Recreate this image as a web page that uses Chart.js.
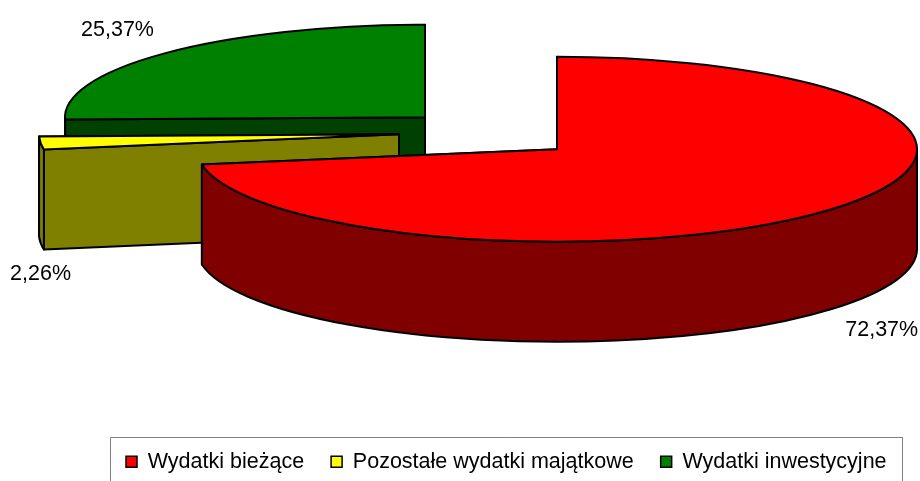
<!DOCTYPE html>
<html lang="pl">
<head>
    <meta charset="UTF-8">
    <title>Wydatki</title>
    <style>
        body { margin: 0; background: #fff; }
        canvas { display: block; }
    </style>
    <script src="https://cdn.jsdelivr.net/npm/chart.js"></script>
</head>
<body>
    <canvas id="chart" width="920" height="481"></canvas>
    <script>
        const categories = ['Wydatki bieżące', 'Pozostałe wydatki majątkowe', 'Wydatki inwestycyjne'];
        const shares = [72.37, 2.26, 25.37];
        const topColors = ['#ff0000', '#ffff00', '#008000'];
        const sideColors = ['#800000', '#808000', '#004000'];

        // look of the fake 3D pie (pixels)
        const squash = 92.5 / 360;
        const depth = 100;
        const explode = [[97, -62], [-61, -77], [-35, -94]];   // shift of each slice from the chart centre
        const labelShift = [[50, 121], [0, 131], [-50, -23]];  // label from the middle of the slice rim

        function drawSlice(ctx, arc, i) {
            const { x, y, startAngle, endAngle, outerRadius: r } = arc.getProps(['x', 'y', 'startAngle', 'endAngle', 'outerRadius']);
            const cx = x + explode[i][0];
            const cy = y + explode[i][1];
            const ry = r * squash;
            const rim = a => [cx + r * Math.cos(a), cy + ry * Math.sin(a)];

            ctx.lineWidth = 2;
            ctx.lineJoin = 'round';
            ctx.strokeStyle = '#000';
            ctx.fillStyle = sideColors[i];

            // the two cut faces, the far one first
            [endAngle, startAngle].forEach(a => {
                const p = rim(a);
                ctx.beginPath();
                ctx.moveTo(cx, cy);
                ctx.lineTo(p[0], p[1]);
                ctx.lineTo(p[0], p[1] + depth);
                ctx.lineTo(cx, cy + depth);
                ctx.closePath();
                ctx.fill();
                ctx.stroke();
            });

            // outer wall, only the part that faces the viewer
            const a1 = Math.max(startAngle, 0);
            const a2 = Math.min(endAngle, Math.PI);
            if (a2 > a1) {
                ctx.beginPath();
                ctx.ellipse(cx, cy, r, ry, 0, a1, a2);
                ctx.ellipse(cx, cy + depth, r, ry, 0, a2, a1, true);
                ctx.closePath();
                ctx.fill();
                ctx.stroke();
            }

            // top face is the library's own arc, flattened
            ctx.save();
            ctx.translate(cx, cy);
            ctx.scale(1, squash);
            ctx.translate(-x, -y);
            arc.draw(ctx);
            ctx.restore();

            ctx.beginPath();
            ctx.moveTo(cx, cy);
            ctx.ellipse(cx, cy, r, ry, 0, startAngle, endAngle);
            ctx.closePath();
            ctx.stroke();
        }

        const pie3d = {
            id: 'pie3d',
            afterLayout(chart) {
                // legend sits in its own frame, not across the whole width
                const legend = chart.legend;
                legend.left = 99;
                legend.right = 920;
                legend.top = 424;
            },
            beforeDatasetsDraw(chart) {
                const ctx = chart.ctx;
                const arcs = chart.getDatasetMeta(0).data;
                ctx.save();
                [2, 1, 0].forEach(i => drawSlice(ctx, arcs[i], i));

                ctx.fillStyle = '#000';
                ctx.font = '21.5px "Liberation Sans"';
                ctx.textAlign = 'center';
                ctx.textBaseline = 'middle';
                arcs.forEach((arc, i) => {
                    const mid = (arc.startAngle + arc.endAngle) / 2;
                    const px = arc.x + explode[i][0] + arc.outerRadius * Math.cos(mid);
                    const py = arc.y + explode[i][1] + arc.outerRadius * squash * Math.sin(mid);
                    const text = shares[i].toFixed(2).replace('.', ',') + '%';
                    ctx.fillText(text, px + labelShift[i][0], py + labelShift[i][1]);
                });
                ctx.restore();
                return false;
            },
            afterDraw(chart) {
                const ctx = chart.ctx;
                ctx.save();
                ctx.strokeStyle = '#808080';
                ctx.lineWidth = 1;
                ctx.beginPath();
                ctx.moveTo(110.5, 490);
                ctx.lineTo(110.5, 437.5);
                ctx.lineTo(902.5, 437.5);
                ctx.lineTo(902.5, 490);
                ctx.stroke();
                ctx.restore();
            }
        };

        new Chart(document.getElementById('chart'), {
            type: 'pie',
            data: {
                labels: categories,
                datasets: [{
                    data: shares,
                    backgroundColor: topColors,
                    borderWidth: 0
                }]
            },
            options: {
                responsive: false,
                animation: false,
                radius: 360,
                plugins: {
                    tooltip: { enabled: false },
                    legend: {
                        position: 'bottom',
                        align: 'start',
                        labels: {
                            boxWidth: 11,
                            boxHeight: 11,
                            padding: 27,
                            color: '#000',
                            font: { family: '"Liberation Sans"', size: 21.5 },
                            generateLabels(chart) {
                                return Chart.overrides.pie.plugins.legend.labels.generateLabels(chart).map(item => {
                                    item.strokeStyle = '#000';
                                    item.lineWidth = 1.5;
                                    return item;
                                });
                            }
                        }
                    }
                }
            },
            plugins: [pie3d]
        });
    </script>
</body>
</html>
